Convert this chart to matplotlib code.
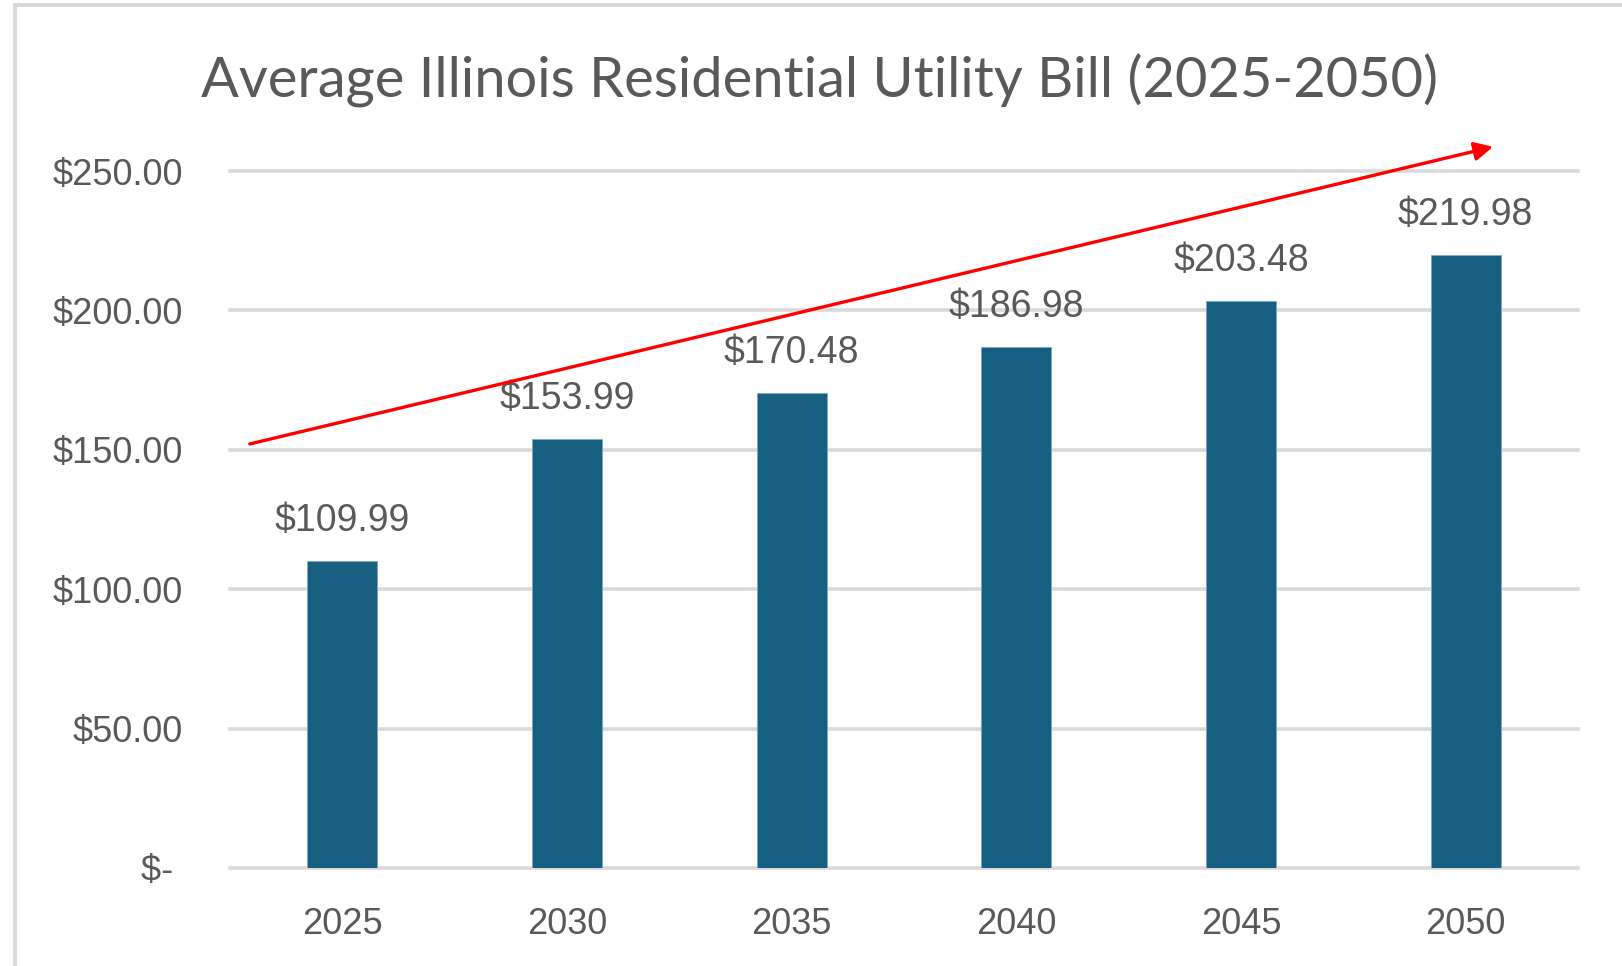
import matplotlib.pyplot as plt
from matplotlib.lines import Line2D

# Data
years = ['2025', '2030', '2035', '2040', '2045', '2050']
bills = [109.99, 153.99, 170.48, 186.98, 203.48, 219.98]
y_ticks = [0, 50, 100, 150, 200, 250]
y_tick_labels = ['$- ', '$50.00', '$100.00', '$150.00', '$200.00', '$250.00']

bar_color = '#175F80'
grid_color = '#D9D9D9'
text_color = '#595959'

plt.rcParams['font.family'] = ['Liberation Sans', 'DejaVu Sans']

fig = plt.figure(figsize=(16.22, 9.66), dpi=100)
ax = fig.add_axes([0.1418, 0.10145, 0.8311, 0.7215])

x = range(len(years))
bars = ax.bar(x, bills, width=0.312, color=bar_color, edgecolor='#7FA9C2',
              linewidth=0.6, zorder=3)

for xi, v in zip(x, bills):
    ax.annotate('${:.2f}'.format(v), (xi, v), xytext=(0, 21.6),
                textcoords='offset points', ha='center', va='baseline',
                fontsize=27, color=text_color)

ax.set_xlim(-0.5, len(years) - 0.5)
ax.set_ylim(0, 250)
ax.set_yticks(y_ticks)
ax.set_yticklabels(y_tick_labels)
ax.set_xticks(list(x))
ax.set_xticklabels(years)
ax.tick_params(axis='y', length=0, pad=34, labelsize=26, labelcolor=text_color)
ax.tick_params(axis='x', length=0, pad=28, labelsize=26, labelcolor=text_color)
ax.yaxis.grid(True, color=grid_color, linewidth=2.6, zorder=0)
for gl in ax.get_ygridlines():
    gl.set_clip_on(False)
ax.set_axisbelow(True)
for s in ax.spines.values():
    s.set_visible(False)

# trend arrow
ax.annotate('', xy=(5.122, 258.7), xytext=(-0.412, 152.1),
            arrowprops=dict(arrowstyle='-|>', color='#FF0000', lw=2.4,
                            mutation_scale=28, shrinkA=0, shrinkB=0),
            annotation_clip=False)

fig.text(0.5055, 1 - 98 / 966, 'Average Illinois Residential Utility Bill (2025-2050)',
         ha='center', va='baseline', fontsize=40.3, color=text_color,
         family=['Lato', 'DejaVu Sans'])

# chart border (top and left only visible)
fig.add_artist(Line2D([15 / 1622, 15 / 1622], [0, 1 - 5 / 966], color=grid_color,
                      linewidth=2.8, transform=fig.transFigure))
fig.add_artist(Line2D([15 / 1622, 1], [1 - 5 / 966, 1 - 5 / 966], color=grid_color,
                      linewidth=2.8, transform=fig.transFigure))

fig.savefig('out.png', dpi=100)
